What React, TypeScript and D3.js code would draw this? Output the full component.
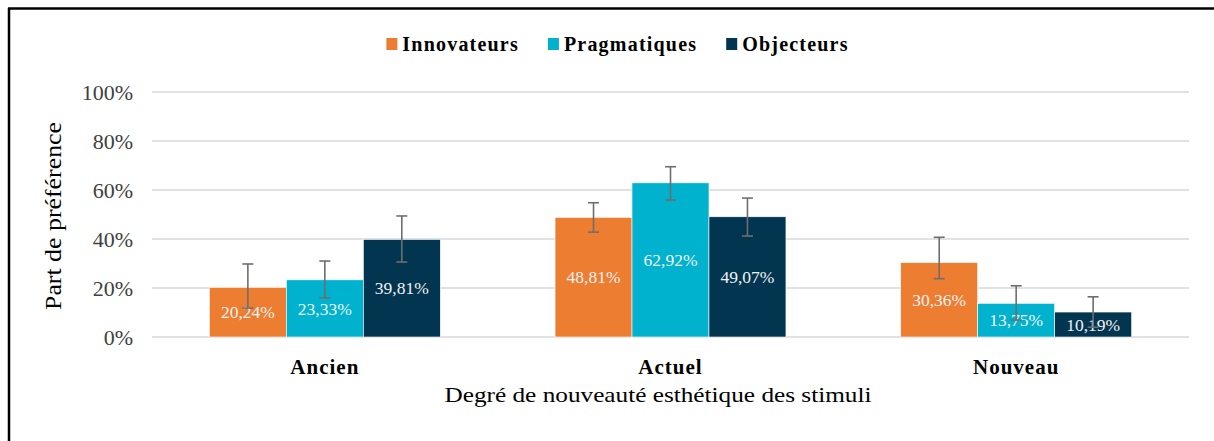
import React, { useEffect, useRef } from 'react';
import * as d3 from 'd3';

// categories / series
const categories = ['Ancien', 'Actuel', 'Nouveau'];
const series = ['Innovateurs', 'Pragmatiques', 'Objecteurs'];
const colors = ['#ED7D31', '#00B2CD', '#023550'];

// part de préférence (%) per series, in category order
const innovateurs = [20.24, 48.81, 30.36];
const pragmatiques = [23.33, 62.92, 13.75];
const objecteurs = [39.81, 49.07, 10.19];

// error bar ends (%)
const innovateursHigh = [29.8, 54.8, 40.7];
const innovateursLow = [11.8, 42.8, 23.8];
const pragmatiquesHigh = [31.0, 69.5, 20.9];
const pragmatiquesLow = [16.0, 55.9, 6.9];
const objecteursHigh = [49.4, 56.7, 16.4];
const objecteursLow = [30.6, 41.2, 4.0];

const yTicks = [0, 20, 40, 60, 80, 100];

const values = [innovateurs, pragmatiques, objecteurs];
const highs = [innovateursHigh, pragmatiquesHigh, objecteursHigh];
const lows = [innovateursLow, pragmatiquesLow, objecteursLow];

const fmt = (v: number) => v.toFixed(2).replace('.', ',') + '%';
const SERIF = '"Liberation Serif", "Times New Roman", serif';

function Chart() {
  const ref = useRef<SVGSVGElement | null>(null);

  useEffect(() => {
    const svg = d3.select(ref.current);
    svg.selectAll('*').remove();

    const width = 1214;
    const height = 441;
    const left = 152, right = 1189, top = 92, bottom = 337;

    // frame (only top and left edges visible)
    svg.append('line').attr('x1', 8).attr('x2', width).attr('y1', 8.5).attr('y2', 8.5)
      .attr('stroke', '#000').attr('stroke-width', 2.5);
    svg.append('line').attr('x1', 9).attr('x2', 9).attr('y1', 8).attr('y2', height)
      .attr('stroke', '#000').attr('stroke-width', 2.5);

    const x0 = d3.scaleBand<string>().domain(categories).range([left, right]);
    const bw = x0.bandwidth();
    const gw = bw * 0.668;
    const x1 = d3.scaleBand<string>().domain(series).range([(bw - gw) / 2, (bw + gw) / 2]);
    const y = d3.scaleLinear().domain([0, 100]).range([bottom, top]);

    const g = svg.append('g');

    // grid
    g.selectAll('line.grid').data(yTicks).enter().append('line')
      .attr('class', 'grid')
      .attr('x1', left).attr('x2', right)
      .attr('y1', d => y(d)).attr('y2', d => y(d))
      .attr('stroke', '#D9D9D9').attr('stroke-width', 1.5);

    g.selectAll('text.ytick').data(yTicks).enter().append('text')
      .attr('class', 'ytick')
      .attr('x', 133).attr('y', d => y(d))
      .attr('dy', '0.35em')
      .attr('text-anchor', 'end')
      .attr('font-family', SERIF)
      .attr('font-size', 22)
      .attr('fill', '#404040')
      .text(d => d + '%');

    // bars
    series.forEach((s, si) => {
      const sg = g.append('g');
      const data = categories.map((c, ci) => ({ c, v: values[si][ci], hi: highs[si][ci], lo: lows[si][ci] }));
      sg.selectAll('rect').data(data).enter().append('rect')
        .attr('x', d => (x0(d.c) as number) + (x1(s) as number))
        .attr('y', d => y(d.v))
        .attr('width', x1.bandwidth())
        .attr('height', d => y(0) - y(d.v))
        .attr('fill', colors[si])
        .attr('stroke', '#fff').attr('stroke-width', 0.6);

      sg.selectAll('text').data(data).enter().append('text')
        .attr('x', d => (x0(d.c) as number) + (x1(s) as number) + x1.bandwidth() / 2)
        .attr('y', d => (y(d.v) + y(0)) / 2)
        .attr('dy', '0.35em')
        .attr('text-anchor', 'middle')
        .attr('font-family', SERIF)
        .attr('font-size', 17.5)
        .attr('fill', '#F2F2F2')
        .text(d => fmt(d.v));

      // error bars
      const eb = sg.selectAll('g.err').data(data).enter().append('g').attr('class', 'err')
        .attr('stroke', '#6E6E6E').attr('stroke-width', 1.6);
      const cx = (d: { c: string }) => (x0(d.c) as number) + (x1(s) as number) + x1.bandwidth() / 2;
      eb.append('line').attr('x1', cx).attr('x2', cx).attr('y1', d => y(d.hi)).attr('y2', d => y(d.lo));
      eb.append('line').attr('x1', d => cx(d) - 5.5).attr('x2', d => cx(d) + 5.5).attr('y1', d => y(d.hi)).attr('y2', d => y(d.hi));
      eb.append('line').attr('x1', d => cx(d) - 5.5).attr('x2', d => cx(d) + 5.5).attr('y1', d => y(d.lo)).attr('y2', d => y(d.lo));
    });

    // category labels
    g.selectAll('text.cat').data(categories).enter().append('text')
      .attr('class', 'cat')
      .attr('x', d => (x0(d) as number) + bw / 2)
      .attr('y', 374)
      .attr('text-anchor', 'middle')
      .attr('font-family', SERIF)
      .attr('font-weight', 'bold')
      .attr('font-size', 21)
      .attr('letter-spacing', 1)
      .attr('fill', '#000')
      .text(d => d);

    // axis titles
    svg.append('text')
      .attr('x', 658).attr('y', 402)
      .attr('text-anchor', 'middle')
      .attr('font-family', SERIF)
      .attr('font-size', 22)
      .attr('textLength', 427)
      .attr('lengthAdjust', 'spacingAndGlyphs')
      .attr('fill', '#000')
      .text('Degré de nouveauté esthétique des stimuli');

    svg.append('text')
      .attr('transform', `translate(61, 216) rotate(-90)`)
      .attr('text-anchor', 'middle')
      .attr('font-family', SERIF)
      .attr('font-size', 23)
      .attr('textLength', 188)
      .attr('lengthAdjust', 'spacingAndGlyphs')
      .attr('fill', '#000')
      .text('Part de préférence');

    // legend
    const legend = svg.append('g');
    const items = legend.selectAll('g').data(series).enter().append('g');
    items.append('rect').attr('width', 11).attr('height', 12).attr('y', 38)
      .attr('fill', (_d, i) => colors[i]);
    items.append('text')
      .attr('x', 16).attr('y', 51)
      .attr('font-family', SERIF)
      .attr('font-weight', 'bold')
      .attr('font-size', 20)
      .attr('letter-spacing', 1.2)
      .attr('fill', '#000')
      .text(d => d);
    const widths: number[] = [];
    items.select('text').each(function () { widths.push((this as SVGTextElement).getComputedTextLength()); });
    const gap = 29;
    const total = d3.sum(widths.map(w => 16 + w)) + gap * (series.length - 1);
    let cur = 617.5 - total / 2;
    items.attr('transform', (_d, i) => {
      const t = `translate(${cur},0)`;
      cur += 16 + widths[i] + gap;
      return t;
    });
  }, []);

  return <svg ref={ref} width={1214} height={441} style={{ display: 'block', background: '#fff' }} />;
}

export default function App() {
  useEffect(() => {
    document.body.style.margin = '0';
  }, []);
  return <Chart />;
}
